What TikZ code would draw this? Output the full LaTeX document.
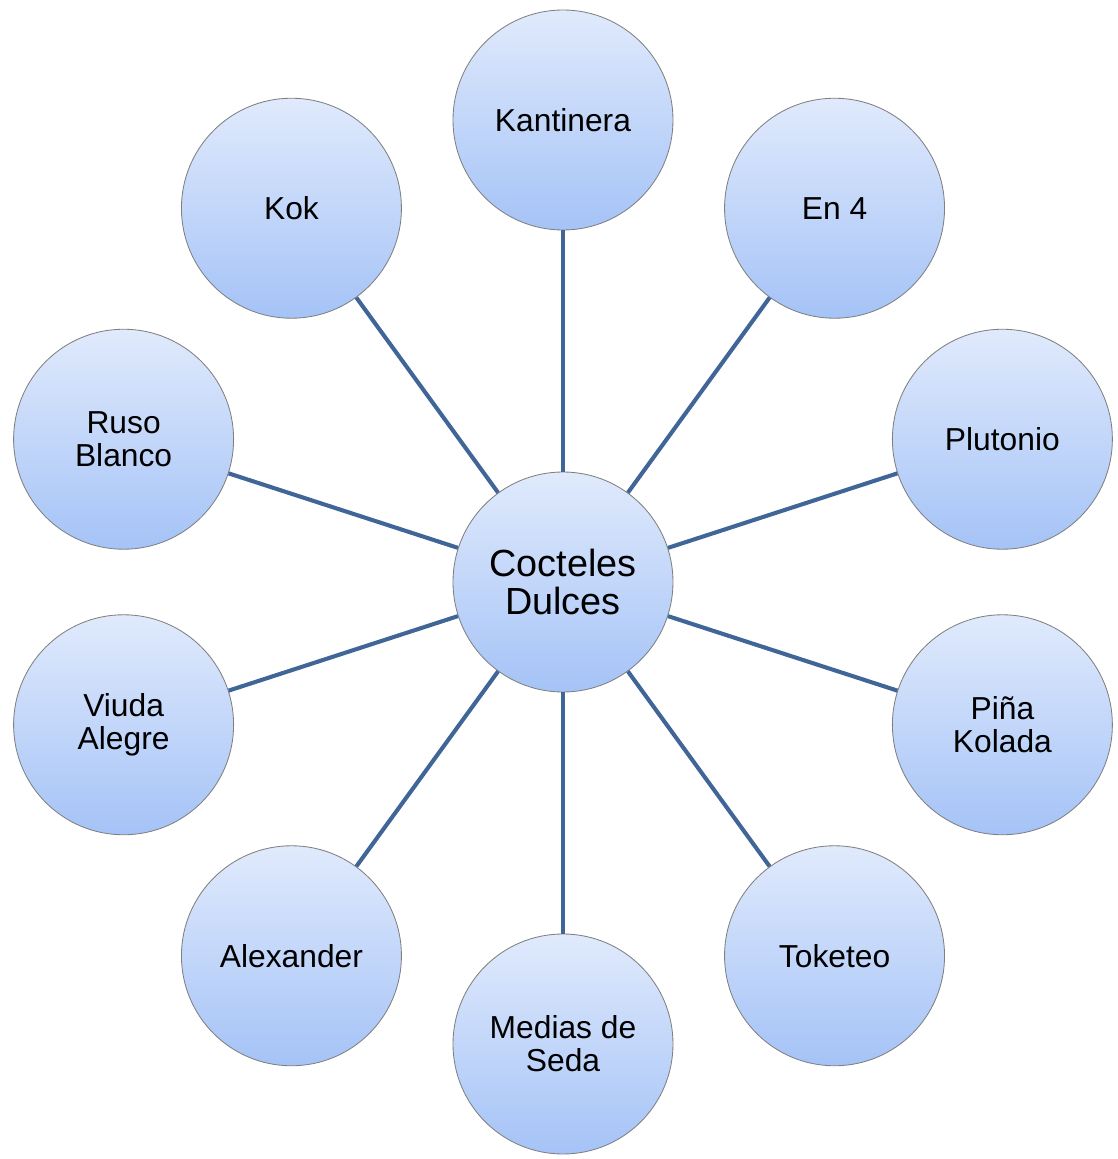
\documentclass[tikz,border=0pt]{standalone}
\usepackage{fontspec}
\setmainfont{Liberation Sans}
\usepackage{xcolor}
\usepackage{tikz}
\usetikzlibrary{shapes.geometric, positioning}

\definecolor{bubbletop}{RGB}{224,234,252}
\definecolor{bubblebottom}{RGB}{165,195,247}
\definecolor{spoke}{RGB}{64,101,151}

\begin{document}
\begin{tikzpicture}[
    bubble/.style={circle, draw=black!50, line width=0.6pt, top color=bubbletop, bottom color=bubblebottom, minimum size=5.5cm, inner sep=0pt, align=center, font=\fontsize{22.6}{23.5}\selectfont},
    hub/.style={bubble, font=\fontsize{26.9}{26.5}\selectfont},
    spokeline/.style={draw=spoke, line width=2.9pt}
]
\useasboundingbox (-14.075,-14.425) rectangle (13.875,14.55);

\node[hub] (center) at (0,0) {Cocteles\\Dulces};

\node[bubble] (kantinera) at (90:11.55cm) {Kantinera};
\node[bubble] (en4) at (54:11.55cm) {En 4};
\node[bubble] (plutonio) at (18:11.55cm) {Plutonio};
\node[bubble] (pina) at (-18:11.55cm) {Piña\\Kolada};
\node[bubble] (toketeo) at (-54:11.55cm) {Toketeo};
\node[bubble] (medias) at (-90:11.55cm) {Medias de\\Seda};
\node[bubble] (alexander) at (-126:11.55cm) {Alexander};
\node[bubble] (viuda) at (-162:11.55cm) {Viuda\\Alegre};
\node[bubble] (ruso) at (162:11.55cm) {Ruso\\Blanco};
\node[bubble] (kok) at (126:11.55cm) {Kok};

\draw[spokeline] (center) -- (kantinera);
\draw[spokeline] (center) -- (en4);
\draw[spokeline] (center) -- (plutonio);
\draw[spokeline] (center) -- (pina);
\draw[spokeline] (center) -- (toketeo);
\draw[spokeline] (center) -- (medias);
\draw[spokeline] (center) -- (alexander);
\draw[spokeline] (center) -- (viuda);
\draw[spokeline] (center) -- (ruso);
\draw[spokeline] (center) -- (kok);

\end{tikzpicture}
\end{document}
